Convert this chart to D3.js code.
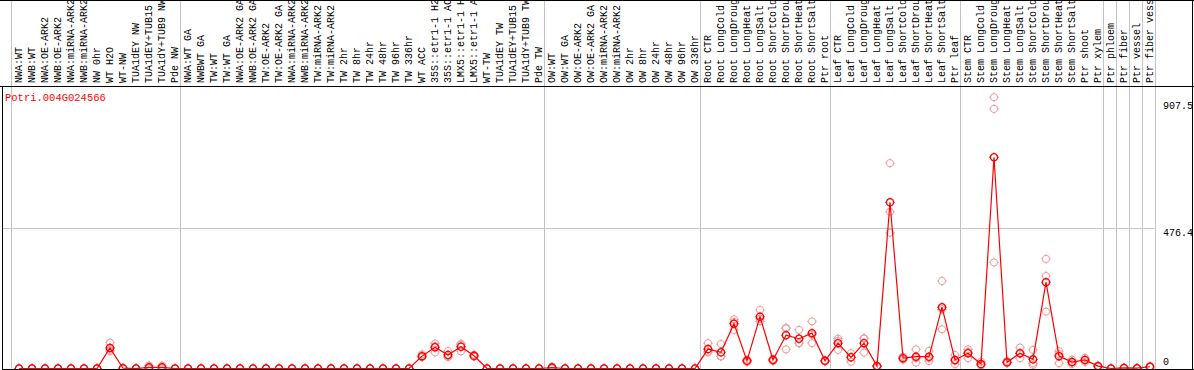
<!DOCTYPE html>
<html>
<head>
<meta charset="utf-8">
<script src="https://cdn.jsdelivr.net/npm/d3@7/dist/d3.min.js"></script>
<style>
  body { margin: 0; background: #fff; }
  svg { display: block; }
  text { font-family: "Liberation Mono", "DejaVu Sans Mono", monospace; font-size: 10px; }
</style>
</head>
<body>
<div id="chart"></div>
<script>
// Expression profile - one gene across 88 samples

const geneId = 'Potri.004G024566';

// Sample labels (as printed, truncated to 14 chars)
const labels = [
  'NWA:WT', 'NWB:WT', 'NWA:OE-ARK2', 'NWB:OE-ARK2', 'NWA:miRNA-ARK2', 'NWB:miRNA-ARK2',
  'NW 0hr', 'WT H2O', 'WT-NW', 'TUA1dEY NW', 'TUA1dEY+TUB15', 'TUA1dY+TUB9 NW', 'Pde NW',
  'NWA:WT GA', 'NWBWT GA', 'TW:WT', 'TW:WT GA', 'NWA:OE-ARK2 GA', 'NWB:OE-ARK2 GA',
  'TW:OE-ARK2', 'TW:OE-ARK2 GA', 'NWA:miRNA-ARK2', 'NWB:miRNA-ARK2', 'TW:miRNA-ARK2',
  'TW:miRNA-ARK2', 'TW 2hr', 'TW 8hr', 'TW 24hr', 'TW 48hr', 'TW 96hr', 'TW 336hr',
  'WT ACC', '35S::etr1-1 H2', '35S::etr1-1 AC', 'LMX5::etr1-1 H', 'LMX5::etr1-1 A',
  'WT-TW', 'TUA1dEY TW', 'TUA1dEY+TUB15', 'TUA1dY+TUB9 TW', 'Pde TW',
  'OW:WT', 'OW:WT GA', 'OW:OE-ARK2', 'OW:OE-ARK2 GA', 'OW:miRNA-ARK2', 'OW:miRNA-ARK2',
  'OW 2hr', 'OW 8hr', 'OW 24hr', 'OW 48hr', 'OW 96hr', 'OW 336hr',
  'Root CTR', 'Root LongCold', 'Root LongDroug', 'Root LongHeat', 'Root LongSalt',
  'Root ShortCold', 'Root ShortDrou', 'Root ShortHeat', 'Root ShortSalt', 'Ptr root',
  'Leaf CTR', 'Leaf LongCold', 'Leaf LongDroug', 'Leaf LongHeat', 'Leaf LongSalt',
  'Leaf ShortCold', 'Leaf ShortDrou', 'Leaf ShortHeat', 'Leaf ShortSalt', 'Ptr leaf',
  'Stem CTR', 'Stem LongCold', 'Stem LongDroug', 'Stem LongHeat', 'Stem LongSalt',
  'Stem ShortCold', 'Stem ShortDrou', 'Stem ShortHeat', 'Stem ShortSalt', 'Ptr shoot',
  'Ptr xylem', 'Ptr phloem', 'Ptr fiber', 'Ptr vessel', 'Ptr fiber vess'
];

// Index of the first sample of each group (separator lines), plus the end
const groupBreaks = [0, 13, 41, 53, 63, 73, 84, 85, 86, 87, 88];

// Mean expression per sample
const means = [
  0, 0, 0, 0, 0, 0, 0, 70, 1, 0, 4, 4, 0,
  0, 0, 0, 0, 0, 0, 0, 0, 0, 0, 0, 0, 0, 0, 0, 0, 0, 0,
  42, 72, 46, 74, 43, 0, 0, 0, 0, 0,
  3, 0, 0, 0, 0, 0, 0, 0, 0, 0, 0, 0,
  66, 55, 152, 26, 176, 29, 113, 101, 120, 26,
  86, 38, 86, 8, 564, 35, 40, 40, 208, 29,
  52, 15, 717, 21, 52, 31, 293, 42, 22, 29, 8,
  0, 2, 1, 6
];

// Replicate values per sample
const replicates = [
  [0, 0, 0], [0, 0, 0], [0, 0, 0], [0, 0, 0], [0, 0, 0], [0, 0, 0], [0, 0, 0],
  [88, 59, 63], [2, 1, 0], [0, 0, 0], [10, 1, 1], [10, 1, 1], [0, 0, 0],
  [0, 0, 0], [0, 0, 0], [0, 0, 0], [0, 0, 0], [0, 0, 0], [0, 0, 0], [0, 0, 0], [0, 0, 0],
  [0, 0, 0], [0, 0, 0], [0, 0, 0], [0, 0, 0], [0, 0, 0], [0, 0, 0], [0, 0, 0], [0, 0, 0],
  [0, 0, 0], [0, 0, 0],
  [48, 38, 40], [76, 55, 85], [59, 40, 39], [80, 58, 84], [47, 40, 42],
  [0, 0, 0], [0, 0, 0], [0, 0, 0], [0, 0, 0], [0, 0, 0],
  [6, 2, 1], [0, 0, 0], [0, 0, 0], [0, 0, 0], [0, 0, 0], [0, 0, 0], [0, 0, 0], [0, 0, 0],
  [0, 0, 0], [0, 0, 0], [0, 0, 0], [0, 0, 0],
  [86, 57, 55], [83, 41, 41], [167, 131, 158], [30, 22, 26], [199, 160, 169],
  [33, 25, 29], [136, 65, 138], [131, 86, 86], [160, 86, 114], [28, 24, 26],
  [101, 63, 94], [52, 23, 39], [101, 54, 103], [10, 6, 8], [697, 532, 461],
  [40, 30, 35], [65, 20, 35], [60, 25, 35], [297, 133, 201], [46, 15, 26],
  [65, 35, 56], [23, 10, 12], [921, 881, 360], [25, 18, 20], [71, 35, 50],
  [63, 12, 18], [372, 314, 193], [59, 18, 49], [30, 15, 21], [36, 22, 29], [10, 6, 8],
  [0, 0, 0], [3, 1, 2], [1, 1, 1], [8, 5, 5]
];

// Right-hand tick values
const yTicks = [0, 476.4, 907.5];

// Layout
const config = {
  width: 1194,
  height: 370,
  plotTop: 86,
  plotBottom: 368.5,
  left: 10.5,
  bandWidth: 13,
  dotOffset: 8.5,
  radius: 3.6
};

const svg = d3.select('#chart').append('svg')
  .attr('width', config.width)
  .attr('height', config.height);

const x = d3.scaleBand()
  .domain(d3.range(labels.length))
  .range([config.left, config.left + config.bandWidth * labels.length])
  .paddingInner(0).paddingOuter(0);

const y = d3.scaleLinear()
  .domain([0, 952])
  .range([config.plotBottom, 88]);

const cx = i => x(i) + config.dotOffset;
const plotRight = x.range()[1];

// Horizontal grid line at middle tick
svg.append('line')
  .attr('x1', 2).attr('x2', plotRight)
  .attr('y1', Math.round(y(476.4)) + 0.5).attr('y2', Math.round(y(476.4)) + 0.5)
  .attr('stroke', '#c4c4c4');

// Group separators
svg.append('g').selectAll('line')
  .data(groupBreaks)
  .enter().append('line')
  .attr('x1', d => Math.round(x(d) ?? plotRight) + 0.5)
  .attr('x2', d => Math.round(x(d) ?? plotRight) + 0.5)
  .attr('y1', 0).attr('y2', config.height)
  .attr('stroke', '#c4c4c4');

// Frame
svg.append('line').attr('x1', 0).attr('x2', config.width).attr('y1', 0.5).attr('y2', 0.5).attr('stroke', '#000');
svg.append('line').attr('x1', 0).attr('x2', config.width).attr('y1', config.plotTop + 0.5).attr('y2', config.plotTop + 0.5).attr('stroke', '#000');
svg.append('line').attr('x1', 2.5).attr('x2', 2.5).attr('y1', config.plotTop).attr('y2', config.height).attr('stroke', '#000');
svg.append('line').attr('x1', config.width - 1.5).attr('x2', config.width - 1.5).attr('y1', 0).attr('y2', config.height).attr('stroke', '#000');
svg.append('line').attr('x1', 2).attr('x2', config.width).attr('y1', 369.5).attr('y2', 369.5).attr('stroke', '#000');

// Sample labels (rotated)
svg.append('g').selectAll('text')
  .data(labels)
  .enter().append('text')
  .attr('transform', (d, i) => `translate(${x(i) + 11},83) rotate(-90)`)
  .attr('fill', '#000')
  .text(d => d);

// Gene id
svg.append('text')
  .attr('x', 5).attr('y', 101)
  .attr('fill', '#ff0000')
  .style('font-size', '10.5px')
  .text(geneId);

// Y tick labels
svg.append('g').selectAll('text')
  .data(yTicks)
  .enter().append('text')
  .attr('x', 1163)
  .attr('y', d => d === 0 ? 365 : y(d) + 8)
  .attr('fill', '#000')
  .text(d => d);

// Circle with small cross ticks
function marker(g, color, width) {
  const r = config.radius;
  g.append('circle')
    .attr('r', r)
    .attr('fill', 'none')
    .attr('stroke', color)
    .attr('stroke-width', width);
  g.append('path')
    .attr('d', `M0,${-r - 1.2}V${-r}M0,${r}V${r + 1.2}M${-r - 1.2},0H${-r}M${r},0H${r + 1.2}`)
    .attr('stroke', color)
    .attr('stroke-width', 1);
}

svg.append('clipPath').attr('id', 'plotClip')
  .append('rect').attr('x', 3).attr('y', config.plotTop + 1)
  .attr('width', plotRight - 3).attr('height', 369 - config.plotTop - 1);

const plot = svg.append('g').attr('clip-path', 'url(#plotClip)');

// Replicates
const repData = [];
replicates.forEach((reps, i) => reps.forEach(v => repData.push({ i, v })));
plot.append('g').selectAll('g')
  .data(repData)
  .enter().append('g')
  .attr('transform', d => `translate(${cx(d.i)},${y(d.v)})`)
  .each(function() { marker(d3.select(this), '#f09a9a', 1); });

// Mean line
const line = d3.line()
  .x((d, i) => cx(i))
  .y(d => y(d));

plot.append('path')
  .datum(means)
  .attr('d', line)
  .attr('fill', 'none')
  .attr('stroke', '#ff0000')
  .attr('stroke-width', 1.2);

// Means
plot.append('g').selectAll('g')
  .data(means)
  .enter().append('g')
  .attr('transform', (d, i) => `translate(${cx(i)},${y(d)})`)
  .each(function() { marker(d3.select(this), '#ff0000', 1.3); });
</script>
</body>
</html>
